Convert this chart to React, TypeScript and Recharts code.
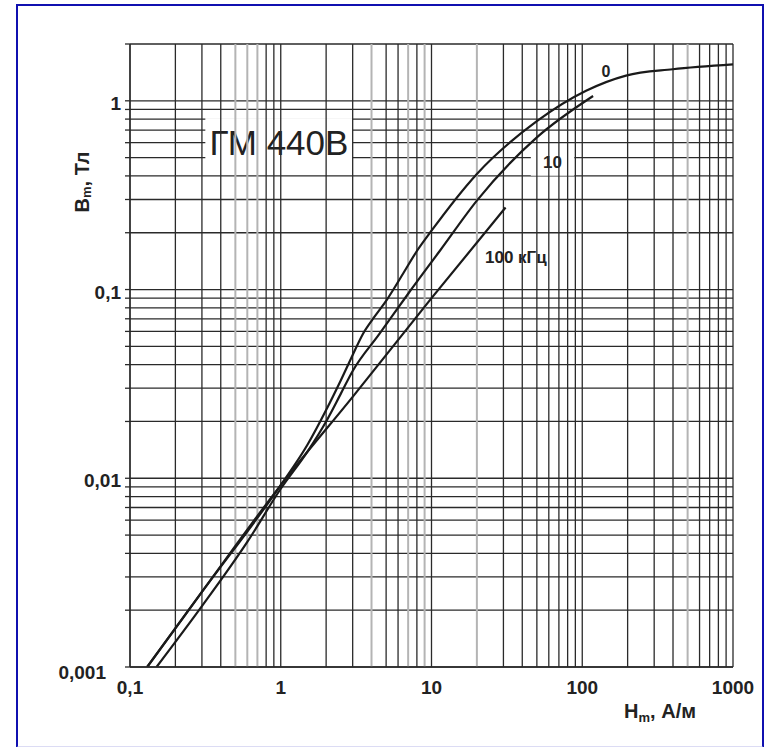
import {
  CartesianGrid,
  Label,
  Line,
  LineChart,
  ReferenceArea,
  ReferenceLine,
  XAxis,
  YAxis,
} from "recharts";

// curve "0" (static)
const C0_H = [0.13, 0.3, 1, 1.5, 2, 2.5, 3, 3.5, 4.2, 5.04, 6.5, 8, 10, 20, 50, 106, 195, 398, 1000];
const C0_B = [0.001, 0.0025, 0.0092, 0.015, 0.023, 0.033, 0.045, 0.058, 0.072, 0.088, 0.122, 0.16, 0.205, 0.41, 0.78, 1.13, 1.36, 1.47, 1.56];

// curve "10" kHz
const C10_H = [0.15, 0.3, 0.6, 1, 1.5, 2, 2.5, 3, 4.5, 7, 11.4, 20, 50, 118];
const C10_B = [0.001, 0.0021, 0.0046, 0.0088, 0.0138, 0.02, 0.028, 0.037, 0.058, 0.095, 0.161, 0.296, 0.64, 1.06];

// curve "100 kHz"
const C100_H = [0.13, 0.3, 1, 3, 10, 31];
const C100_B = [0.001, 0.0025, 0.0092, 0.027, 0.09, 0.272];

const X_LABEL_VALUES = [0.1, 1, 10, 100, 1000];
const X_LABELS = ["0,1", "1", "10", "100", "1000"];
const Y_LABEL_VALUES = [0.001, 0.01, 0.1, 1];
const Y_LABELS = ["0,001", "0,01", "0,1", "1"];

const MANTISSAS = [1, 2, 3, 4, 5, 6, 7, 8, 9];
// vertical lines that look grey on the scan
const GREY_X = [0.5, 0.6, 0.7, 4, 7, 9, 20, 500];

const FONT = "'Liberation Sans', Arial, sans-serif";
const INK = "#222";

const zip = (h: number[], b: number[]) => h.map((v, i) => ({ h: v, b: b[i] }));

const gridTicks = (decades: number[], last: number) => {
  const out: number[] = [];
  decades.forEach((d) => MANTISSAS.forEach((m) => out.push(Number((m * d).toPrecision(3)))));
  out.push(last);
  return out;
};

const X_TICKS = gridTicks([0.1, 1, 10, 100], 1000);
const Y_TICKS = gridTicks([0.001, 0.01, 0.1], 1).concat([2]);

const near = (a: number, b: number) => Math.abs(a - b) < b * 1e-6;

const XTick = ({ x, y, payload }: any) => {
  const i = X_LABEL_VALUES.findIndex((v) => near(payload.value, v));
  if (i < 0) return null;
  return (
    <text x={x} y={y + 27} textAnchor="middle" fontFamily={FONT} fontSize={19} fontWeight="bold" fill={INK}>
      {X_LABELS[i]}
    </text>
  );
};

const YTick = ({ x, y, payload }: any) => {
  const i = Y_LABEL_VALUES.findIndex((v) => near(payload.value, v));
  if (i < 0) return null;
  const low = i === 0;
  return (
    <text
      x={x - (low ? 15 : 0)}
      y={y + (low ? 12 : 9)}
      textAnchor="end"
      fontFamily={FONT}
      fontSize={19}
      fontWeight="bold"
      fill={INK}
    >
      {Y_LABELS[i]}
    </text>
  );
};

// white box with text, used for the curve captions
const boxLabel = (text: string, size: number, weight: string) => (props: any) => {
  const { x, y, width, height } = props.viewBox;
  return (
    <g>
      <rect x={x} y={y} width={width} height={height} fill="#fff" />
      <text
        x={x + width / 2}
        y={y + height / 2 + size * 0.36}
        textAnchor="middle"
        fontFamily={FONT}
        fontSize={size}
        fontWeight={weight}
        fill={INK}
      >
        {text}
      </text>
    </g>
  );
};

const plainLabel = (text: string) => (props: any) => {
  const { x, y, width, height } = props.viewBox;
  return (
    <text x={x + width / 2} y={y + height / 2 + 6} textAnchor="middle" fontFamily={FONT} fontSize={16} fontWeight="bold" fill={INK}>
      {text}
    </text>
  );
};

export default function App() {
  return (
    <div style={{ position: "absolute", left: 0, top: 0, width: 777, height: 747, background: "#fff" }}>
      <div
        style={{
          position: "absolute",
          left: 16,
          top: 4,
          width: 744,
          height: 740,
          borderTop: "2px solid #1010b0",
          borderLeft: "2px solid #1010b0",
          borderRight: "2px solid #1010b0",
          borderBottom: "3px solid #dcdcf4",
        }}
      />
      <div style={{ position: "absolute", left: 0, top: 0 }}>
        <LineChart width={777} height={747} margin={{ top: 44, right: 44, bottom: 50, left: 70 }}>
          <CartesianGrid vertical={false} stroke="#2a2a2a" strokeWidth={1.3} strokeOpacity={1} />
          <XAxis
            type="number"
            dataKey="h"
            scale="log"
            domain={[0.1, 1000]}
            ticks={X_TICKS}
            interval={0}
            allowDataOverflow
            tickLine={false}
            tickSize={0}
            tickMargin={0}
            height={30}
            axisLine={{ stroke: "#2a2a2a", strokeWidth: 1.3 }}
            tick={<XTick />}
          >
            <Label
              content={(p: any) => {
                const vb = p.viewBox;
                return (
                  <text x={vb.x + vb.width - 37} y={vb.y + 51} textAnchor="end" fontFamily={FONT} fontSize={20} fontWeight="bold" fill={INK}>
                    H<tspan fontSize={13} dy={4}>m</tspan>
                    <tspan dy={-4}>, А/м</tspan>
                  </text>
                );
              }}
            />
          </XAxis>
          <YAxis
            type="number"
            dataKey="b"
            scale="log"
            domain={[0.001, 2]}
            ticks={Y_TICKS}
            interval={0}
            allowDataOverflow
            width={60}
            tickSize={5}
            tickMargin={4}
            tickLine={{ stroke: "#2a2a2a", strokeWidth: 1.3 }}
            axisLine={{ stroke: "#2a2a2a", strokeWidth: 1.3 }}
            tick={<YTick />}
          >
            <Label
              content={(p: any) => {
                const vb = p.viewBox;
                const cx = vb.x + 12;
                const cy = 182;
                return (
                  <text
                    x={cx}
                    y={cy}
                    transform={`rotate(-90, ${cx}, ${cy})`}
                    textAnchor="middle"
                    dominantBaseline="central"
                    fontFamily={FONT}
                    fontSize={20}
                    fontWeight="bold"
                    fill={INK}
                  >
                    B<tspan fontSize={13} dy={4}>m</tspan>
                    <tspan dy={-4}>, Тл</tspan>
                  </text>
                );
              }}
            />
          </YAxis>

          {X_TICKS.map((v) => (
            <ReferenceLine
              key={`vx-${v}`}
              x={v}
              stroke={GREY_X.some((g) => near(v, g)) ? "#b4b4b4" : "#2a2a2a"}
              strokeWidth={GREY_X.some((g) => near(v, g)) ? 2 : 1.3}
              ifOverflow="extendDomain"
            />
          ))}

          <ReferenceArea x1={0.316} x2={3.0} y1={0.45} y2={0.81} ifOverflow="visible" fill="none" fillOpacity={0} label={boxLabel("ГМ 440В", 35, "normal")} />
          <ReferenceArea x1={45.6} x2={88.6} y1={0.401} y2={0.557} ifOverflow="visible" fill="none" fillOpacity={0} label={boxLabel("10", 17, "bold")} />
          <ReferenceArea x1={19.4} x2={67.8} y1={0.123} y2={0.181} ifOverflow="visible" fill="none" fillOpacity={0} label={boxLabel("100 кГц", 17, "bold")} />
          <ReferenceArea x1={125} x2={165} y1={1.3} y2={1.6} ifOverflow="visible" fill="none" fillOpacity={0} label={plainLabel("0")} />

          <Line data={zip(C0_H, C0_B)} dataKey="b" type="monotone" stroke="#1a1a1a" strokeWidth={2.2} dot={false} isAnimationActive={false} />
          <Line data={zip(C10_H, C10_B)} dataKey="b" type="monotone" stroke="#1a1a1a" strokeWidth={2.2} dot={false} isAnimationActive={false} />
          <Line data={zip(C100_H, C100_B)} dataKey="b" type="monotone" stroke="#1a1a1a" strokeWidth={2.2} dot={false} isAnimationActive={false} />
        </LineChart>
      </div>
    </div>
  );
}
